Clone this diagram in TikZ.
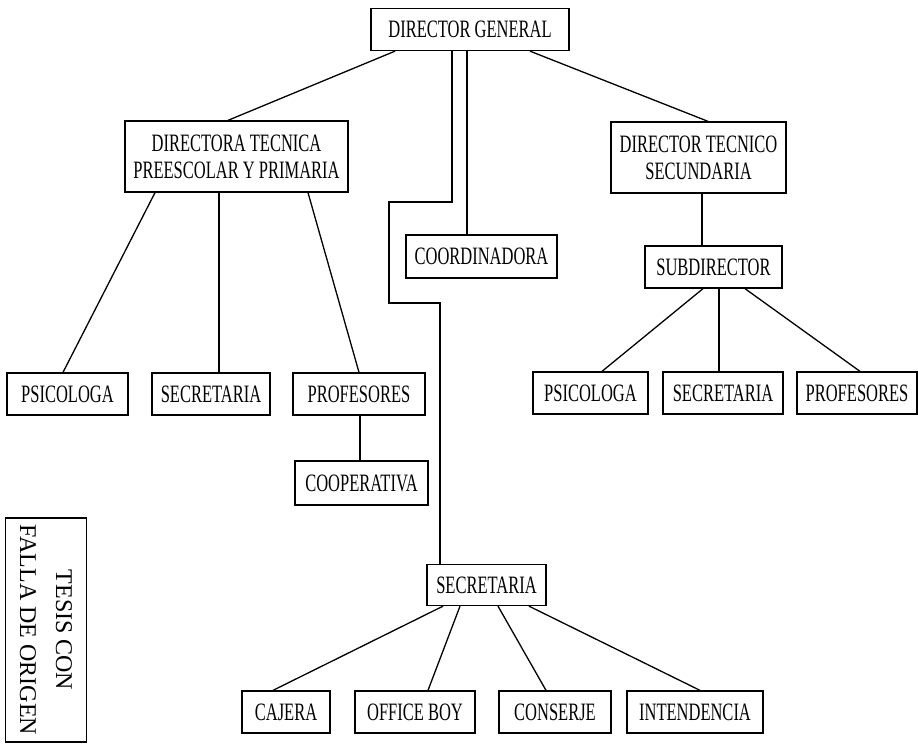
\documentclass[tikz,border=0pt]{standalone}
\usepackage{fontspec}
\setmainfont{Liberation Serif}[FakeStretch=0.66]
\newfontfamily\stampfont{Liberation Serif}
\begin{document}
\begin{tikzpicture}[x=1pt,y=-1pt,
  box/.style={draw, line width=1.3pt, inner sep=0pt, align=center,
    font=\fontsize{25}{27}\selectfont, minimum height=42pt},
  conn/.style={line width=1.3pt}]
\useasboundingbox (0,0) rectangle (918,748);
% nodes
\node[box, minimum width=198pt] (dg) at (470,29.5) {DIRECTOR GENERAL};
\node[box, minimum width=223pt, minimum height=71pt] (dtpp) at (236.5,156.5) {DIRECTORA TECNICA\\PREESCOLAR Y PRIMARIA};
\node[box, minimum width=175pt, minimum height=71pt] (dts) at (698.5,157.5) {DIRECTOR TECNICO\\SECUNDARIA};
\node[box, minimum width=151pt, minimum height=43pt] (coord) at (481.5,256.5) {COORDINADORA};
\node[box, minimum width=137pt] (sub) at (713.5,267) {SUBDIRECTOR};
\node[box, minimum width=121pt] (psi1) at (67.5,394) {PSICOLOGA};
\node[box, minimum width=118pt] (sec1) at (211,394) {SECRETARIA};
\node[box, minimum width=132pt] (prof1) at (359,394) {PROFESORES};
\node[box, minimum width=133pt, minimum height=44pt] (coop) at (361.5,483) {COOPERATIVA};
\node[box, minimum width=115pt] (psi2) at (590.5,393) {PSICOLOGA};
\node[box, minimum width=120pt] (sec2) at (723,393) {SECRETARIA};
\node[box, minimum width=120pt] (prof2) at (857,393) {PROFESORES};
\node[box, minimum width=119pt, minimum height=41pt] (sec3) at (486.5,585) {SECRETARIA};
\node[box, minimum width=88pt] (cajera) at (286,712) {CAJERA};
\node[box, minimum width=120pt] (ob) at (415,712) {OFFICE BOY};
\node[box, minimum width=112pt] (cons) at (555,712) {CONSERJE};
\node[box, minimum width=136pt] (int) at (695,712) {INTENDENCIA};
% stamp
\node[draw, line width=1.6pt, rotate=-90, inner sep=0pt, minimum width=224pt, minimum height=81pt,
  align=center, font=\stampfont\fontsize{24}{36}\selectfont] (stamp) at (46,630) {TESIS CON\\FALLA DE ORIGEN};
% junction points
\coordinate (c1) at (389,202);
\coordinate (c2) at (440,303);
% connectors
\draw[conn] ([xshift=-75]dg.south) -- ([xshift=-8.5]dtpp.north);
\draw[conn] ([xshift=60]dg.south) -- ([xshift=9.5]dts.north);
\draw[conn] ([xshift=-3]dg.south) -- ([xshift=-3]dg.south |- coord.north);
\draw[conn] ([xshift=-18]dg.south) |- (c1) |- (c2) -- (c2 |- sec3.north);
\draw[conn] ([xshift=-81.5]dtpp.south) -- ([xshift=-4.5]psi1.north);
\draw[conn] ([xshift=-17.5]dtpp.south) -- ([xshift=-17.5]dtpp.south |- sec1.north);
\draw[conn] ([xshift=71.5]dtpp.south) -- (prof1.north);
\draw[conn] ([xshift=1]prof1.south) -- ([xshift=1]prof1.south |- coop.north);
\draw[conn] ([xshift=3.5]dts.south) -- ([xshift=3.5]dts.south |- sub.north);
\draw[conn] ([xshift=-10.5]sub.south) -- ([xshift=11.5]psi2.north);
\draw[conn] ([xshift=5.5]sub.south) -- ([xshift=5.5]sub.south |- sec2.north);
\draw[conn] ([xshift=31.5]sub.south) -- ([xshift=3]prof2.north);
\draw[conn] ([xshift=-43.5]sec3.south) -- ([xshift=-13]cajera.north);
\draw[conn] ([xshift=-26.5]sec3.south) -- ([xshift=13]ob.north);
\draw[conn] ([xshift=11.5]sec3.south) -- ([xshift=-9]cons.north);
\draw[conn] ([xshift=42.5]sec3.south) -- ([xshift=5]int.north);
\end{tikzpicture}
\end{document}
